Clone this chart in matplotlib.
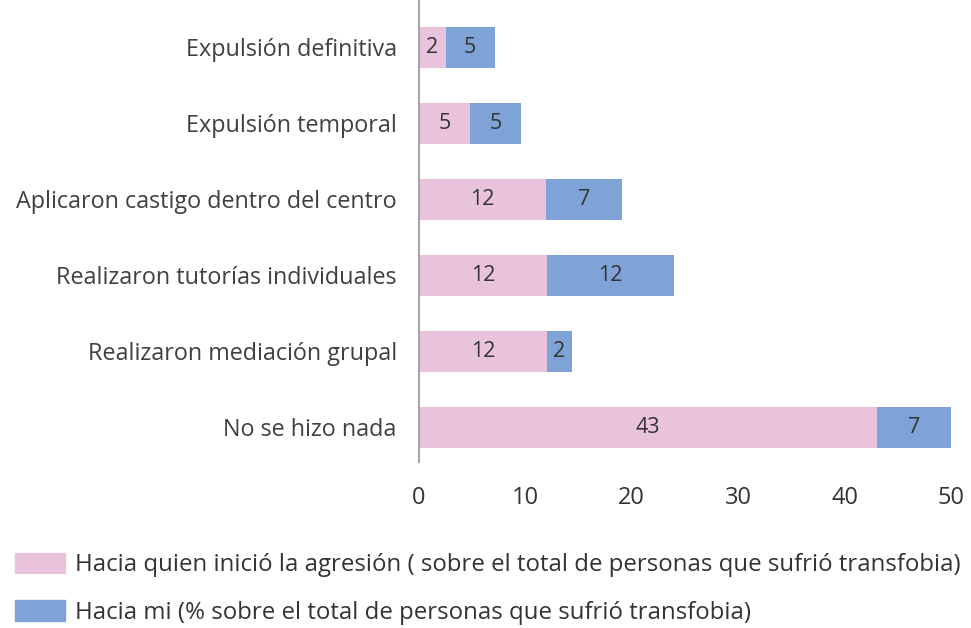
import matplotlib
matplotlib.use("Agg")
from matplotlib import pyplot as plt
from matplotlib.patches import Patch

# categories, bottom to top
categories = ["No se hizo nada", "Realizaron mediación grupal", "Realizaron tutorías individuales",
              "Aplicaron castigo dentro del centro", "Expulsión temporal", "Expulsión definitiva"]
agresor = [43, 12, 12, 11.9, 4.8, 2.5]
hacia_mi = [7, 2.4, 12, 7.2, 4.8, 4.6]
agresor_lbl = ["43", "12", "12", "12", "5", "2"]
hacia_mi_lbl = ["7", "2", "12", "7", "5", "5"]
xticks = [0, 10, 20, 30, 40, 50]

serie1 = "Hacia quien inició la agresión ( sobre el total de personas que sufrió transfobia)"
serie2 = "Hacia mi (% sobre el total de personas que sufrió transfobia)"

pink = "#E9C3DC"
blue = "#7FA3D6"
txt = "#333333"

plt.rcParams['font.family'] = ['Open Sans', 'DejaVu Sans']

fig = plt.figure(figsize=(9.71, 6.28), dpi=100)
ax = fig.add_axes([0.4315, 0.2643, 0.5479, 0.7357])

y = list(range(len(categories)))
ax.barh(y, agresor, height=0.54, color=pink)
ax.barh(y, hacia_mi, left=agresor, height=0.54, color=blue)

for i in y:
    ax.text(agresor[i] / 2, i, agresor_lbl[i], ha="center", va="center", fontsize=15.5, color=txt)
    ax.text(agresor[i] + hacia_mi[i] / 2, i, hacia_mi_lbl[i], ha="center", va="center", fontsize=15.5, color=txt)

ax.set_xlim(0, 50)
ax.set_ylim(-0.46, 5.62)
ax.set_yticks(y)
ax.set_yticklabels(categories, fontsize=16.8, color="#404040")
ax.set_xticks(xticks)
ax.set_xticklabels([str(t) for t in xticks], fontsize=17, color=txt)
ax.tick_params(axis="both", length=0)
ax.tick_params(axis="y", pad=16)
ax.tick_params(axis="x", pad=17)

for s in ["top", "right", "bottom"]:
    ax.spines[s].set_visible(False)
ax.spines["left"].set_color("#A6A6A6")
ax.spines["left"].set_linewidth(1.5)

handles = [Patch(color=pink), Patch(color=blue)]
fig.legend(handles, [serie1, serie2], loc="upper left", bbox_to_anchor=(0.015, 0.12),
           frameon=False, fontsize=17.3, handlelength=2.08, handleheight=0.95,
           handletextpad=0.45, labelspacing=0.95, labelcolor=txt,
           borderpad=0, borderaxespad=0)

plt.savefig("out.png", dpi=100)
